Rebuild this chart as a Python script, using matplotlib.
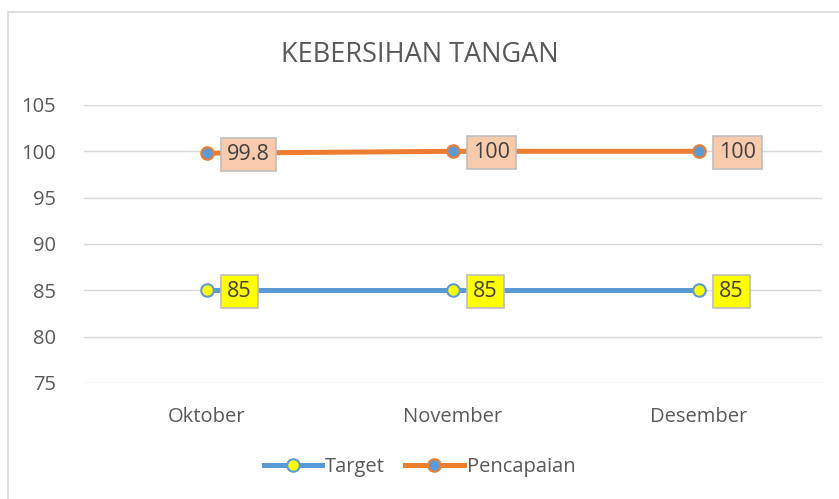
import matplotlib.pyplot as plt
from matplotlib.patches import Rectangle

plt.rcParams['font.family'] = ['Open Sans', 'DejaVu Sans']

bulan = ['Oktober', 'November', 'Desember']
target = [85, 85, 85]
pencapaian = [99.8, 100, 100]
label_pencapaian = ['99.8', '100', '100']
label_target = ['85', '85', '85']

biru = '#5B9BD5'
oranye = '#ED7D31'
teks = '#595959'

fig = plt.figure(figsize=(8.39, 4.99), dpi=100)
ax = fig.add_axes([0.1001, 0.2325, 0.8796, 0.5571])

# bingkai grafik
fig.patches.append(Rectangle((8 / 839, -0.01), 1.0, 1 - 12 / 499 + 0.01,
                             transform=fig.transFigure, fill=False,
                             edgecolor='#D9D9D9', linewidth=1.2))

x = range(len(bulan))
ax.plot(x, target, color=biru, linewidth=3.6, marker='o', markersize=9,
        markerfacecolor='#FFFF00', markeredgecolor=biru, markeredgewidth=1.5,
        label='Target', zorder=3)
ax.plot(x, pencapaian, color=oranye, linewidth=3.6, marker='o', markersize=9,
        markerfacecolor=biru, markeredgecolor=oranye, markeredgewidth=1.5,
        label='Pencapaian', zorder=3)

for i in x:
    ax.annotate(label_target[i], (i, target[i]), xytext=(14.5, -1),
                textcoords='offset points', ha='left', va='center',
                fontsize=15.5, color='#404040', zorder=5,
                bbox=dict(boxstyle='square,pad=0.28', facecolor='#FFFF00',
                          edgecolor='#BFBFBF', linewidth=1.2))
    ax.annotate(label_pencapaian[i], (i, pencapaian[i]), xytext=(14.5, -1),
                textcoords='offset points', ha='left', va='center',
                fontsize=15.5, color='#404040', zorder=5,
                bbox=dict(boxstyle='square,pad=0.28', facecolor='#F8CBAD',
                          edgecolor='#BFBFBF', linewidth=1.2))

ax.set_xlim(-0.5, 2.5)
ax.set_ylim(75, 105)
ax.set_yticks(range(75, 106, 5))
ax.set_xticks(list(x))
ax.set_xticklabels(bulan)
ax.grid(axis='y', color='#D9D9D9', linewidth=1)
ax.set_axisbelow(True)
for s in ax.spines.values():
    s.set_visible(False)
ax.tick_params(length=0, labelsize=14.5, colors=teks, pad=17)
ax.tick_params(axis='y', pad=20)

fig.text(0.5, 1 - 55 / 499, 'KEBERSIHAN TANGAN', ha='center', va='center',
         fontsize=19.5, color=teks)

fig.legend(loc='center', bbox_to_anchor=(0.5, 1 - 467 / 499), ncol=2,
           frameon=False, fontsize=14.5, labelcolor=teks, handlelength=2.9,
           columnspacing=1.0, handletextpad=0.15)

fig.savefig('out.png', dpi=100)
